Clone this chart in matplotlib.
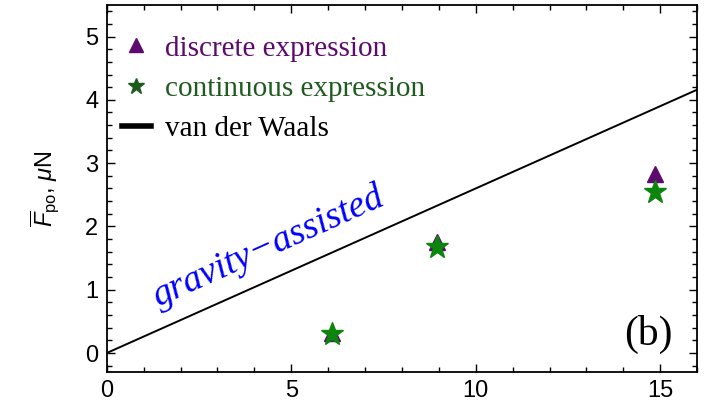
import matplotlib
matplotlib.use("Agg")
import matplotlib.pyplot as plt
from matplotlib.ticker import MultipleLocator
from matplotlib.lines import Line2D

# data
x_exp = [6.1, 8.94, 14.85]
F_discrete = [0.31, 1.75, 2.83]
F_continuous = [0.30, 1.67, 2.54]
x_vdw = [0.0, 16.0]
F_vdw = [0.0, 4.16]

purple = "#5c0a6e"
green = "#0b850b"
dkgreen = "#1f5a1f"

plt.rcParams["font.family"] = "Liberation Sans"
plt.rcParams["mathtext.fontset"] = "custom"
plt.rcParams["mathtext.rm"] = "Liberation Sans"
plt.rcParams["mathtext.it"] = "Liberation Sans:italic"


def main():
    fig = plt.figure(figsize=(7.07, 4.07), dpi=100)
    ax = fig.add_axes([0.151, 0.086, 0.835, 0.902])

    ax.plot(x_vdw, F_vdw, color="black", lw=1.4)
    ax.plot(x_exp, F_discrete, ls="none", marker="^", ms=12, color=purple)
    ax.plot(x_exp, F_continuous, ls="none", marker="*", ms=17, color=green,
            mec=green)

    ax.set_xlim(0, 16)
    ax.set_ylim(-0.3, 5.5)
    ax.xaxis.set_major_locator(MultipleLocator(5))
    ax.xaxis.set_minor_locator(MultipleLocator(1))
    ax.yaxis.set_major_locator(MultipleLocator(1))
    ax.yaxis.set_minor_locator(MultipleLocator(0.2))
    ax.tick_params(which="both", direction="in", top=True, right=True,
                   width=1.0, labelsize=17, pad=6)
    ax.tick_params(which="major", length=6)
    ax.tick_params(which="minor", length=3.5)
    for s in ax.spines.values():
        s.set_linewidth(1.3)

    ax.set_ylabel(r"$\overline{F}_{\mathrm{po}}$, $\mu$N", fontsize=17,
                  labelpad=17)

    # label along the vdW line
    ax.text(4.39, 1.68, "gravity\u2212assisted", color="blue",
            family="Liberation Serif", style="italic", fontsize=27,
            rotation=24.2, ha="center", va="center")
    ax.text(14.68, 0.29, "(b)", family="Liberation Serif", fontsize=30,
            ha="center", va="center")

    handles = [
        Line2D([], [], ls="none", marker="^", ms=10, color=purple),
        Line2D([], [], ls="none", marker="*", ms=12, color=dkgreen),
        Line2D([], [], color="black", lw=4),
    ]
    labels = ["discrete expression", "continuous expression", "van der Waals"]
    leg = ax.legend(handles, labels, loc="upper left",
                    bbox_to_anchor=(-0.004, 0.965), frameon=False,
                    prop={"family": "Liberation Serif", "size": 21},
                    handlelength=1.0, handletextpad=0.48, labelspacing=0.48,
                    borderaxespad=0.2)
    for txt, c in zip(leg.get_texts(), [purple, dkgreen, "black"]):
        txt.set_color(c)

    fig.savefig("out.png", dpi=100)


if __name__ == "__main__":
    main()
